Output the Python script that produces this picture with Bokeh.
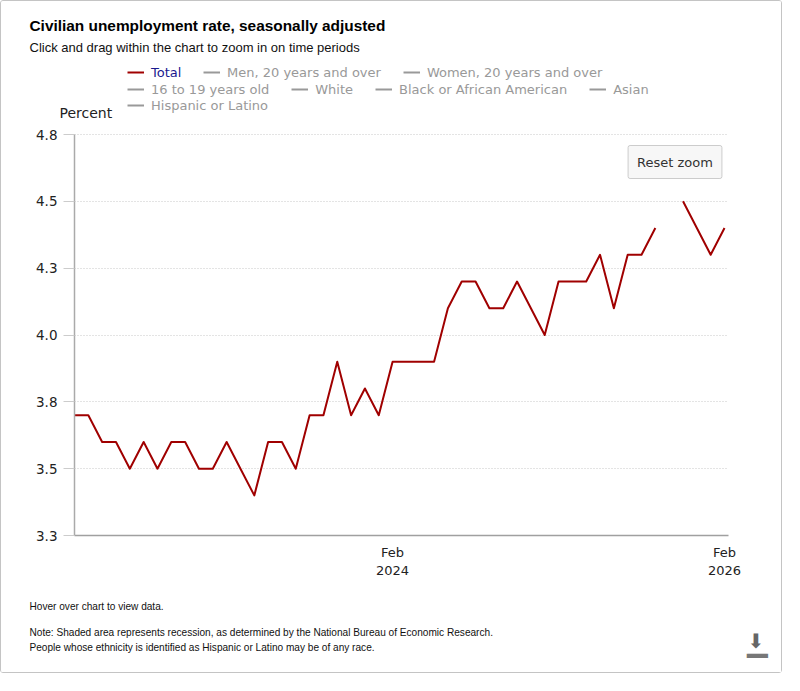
import math
from bokeh.plotting import figure
from bokeh.models import ColumnDataSource, Range1d, FixedTicker, Label, Legend, LegendItem
from bokeh.embed import file_html
from bokeh.resources import INLINE

# ---------------- data ----------------
months = [
    "Mar 2022", "Apr 2022", "May 2022", "Jun 2022", "Jul 2022", "Aug 2022",
    "Sep 2022", "Oct 2022", "Nov 2022", "Dec 2022",
    "Jan 2023", "Feb 2023", "Mar 2023", "Apr 2023", "May 2023", "Jun 2023",
    "Jul 2023", "Aug 2023", "Sep 2023", "Oct 2023", "Nov 2023", "Dec 2023",
    "Jan 2024", "Feb 2024", "Mar 2024", "Apr 2024", "May 2024", "Jun 2024",
    "Jul 2024", "Aug 2024", "Sep 2024", "Oct 2024", "Nov 2024", "Dec 2024",
    "Jan 2025", "Feb 2025", "Mar 2025", "Apr 2025", "May 2025", "Jun 2025",
    "Jul 2025", "Aug 2025", "Sep 2025", "Oct 2025", "Nov 2025", "Dec 2025",
    "Jan 2026", "Feb 2026",
]
total = [
    3.7, 3.7, 3.6, 3.6, 3.5, 3.6, 3.5, 3.6, 3.6, 3.5,
    3.5, 3.6, 3.5, 3.4, 3.6, 3.6, 3.5, 3.7, 3.7, 3.9, 3.7, 3.8,
    3.7, 3.9, 3.9, 3.9, 3.9, 4.1, 4.2, 4.2, 4.1, 4.1, 4.2, 4.1,
    4.0, 4.2, 4.2, 4.2, 4.3, 4.1, 4.3, 4.3, 4.4, None, 4.5, 4.4,
    4.3, 4.4,
]
hidden_series = [
    "Men, 20 years and over", "Women, 20 years and over",
    "16 to 19 years old", "White", "Black or African American", "Asian",
    "Hispanic or Latino",
]
y_ticks = [3.25, 3.5, 3.75, 4.0, 4.25, 4.5, 4.75]
y_tick_labels = ["3.3", "3.5", "3.8", "4.0", "4.3", "4.5", "4.8"]
x_tick_months = ["Feb 2024", "Feb 2026"]
x_tick_labels = ["Feb\n2024", "Feb\n2026"]

title = "Civilian unemployment rate, seasonally adjusted"
subtitle = "Click and drag within the chart to zoom in on time periods"
y_title = "Percent"
footer = [
    "Hover over chart to view data.",
    "Note: Shaded area represents recession, as determined by the National Bureau of Economic Research.",
    "People whose ethnicity is identified as Hispanic or Latino may be of any race.",
]

# ---------------- geometry (page pixels) ----------------
W, H = 782, 673
PL, PT = 9, 9                      # page offset of the canvas (8px margin + 1px border)
AX_L, AX_R, AX_T, AX_B = 82, 736, 142, 543   # plot area on the page
n = len(months)
px_per_x = 650.0 / (n - 1)
px_per_y = (AX_B - AX_T) / (y_ticks[-1] - y_ticks[0])
x0 = -(AX_L - PL) / px_per_x
x1 = x0 + W / px_per_x
y0 = y_ticks[0] - (PT + H - AX_B) / px_per_y
y1 = y0 + H / px_per_y
x_right = (AX_R - AX_L) / px_per_x

x = list(range(n))
y = [math.nan if v is None else v for v in total]
src = ColumnDataSource(data=dict(x=x, y=y, month=months))

p = figure(width=W, height=H, output_backend="svg", toolbar_location=None, tools="",
           title=None, x_range=Range1d(x0, x1), y_range=Range1d(y0, y1),
           min_border=0, min_border_left=0, min_border_right=0,
           min_border_top=0, min_border_bottom=0)
p.styles = {"border": "1px solid #c4c4c4", "border-radius": "3px"}
p.outline_line_color = None
p.background_fill_color = "white"
p.border_fill_color = "white"

p.xgrid.visible = False
p.ygrid.grid_line_color = "#c8c8c8"
p.ygrid.grid_line_dash = "1 2"
p.ygrid.grid_line_width = 1
p.ygrid.bounds = (y_ticks[0], y_ticks[-1])
p.ygrid.cross_bounds = (0, x_right)

p.yaxis.fixed_location = 0
p.yaxis.bounds = (y_ticks[0], y_ticks[-1])
p.yaxis.ticker = FixedTicker(ticks=y_ticks)
p.yaxis.major_label_overrides = dict(zip(y_ticks, y_tick_labels))
p.yaxis.axis_line_color = "#aaaaaa"
p.yaxis.axis_line_width = 1.5
p.yaxis.major_tick_line_color = "#cccccc"
p.yaxis.major_tick_out = 11
p.yaxis.major_tick_in = 0
p.yaxis.minor_tick_line_color = None
p.yaxis.major_label_text_font = "DejaVu Sans"
p.yaxis.major_label_text_font_size = "13.5px"
p.yaxis.major_label_text_color = "#222222"
p.yaxis.major_label_standoff = 6

xt = [months.index(m) for m in x_tick_months]
p.xaxis.fixed_location = y_ticks[0]
p.xaxis.bounds = (0, x_right)
p.xaxis.ticker = FixedTicker(ticks=xt)
p.xaxis.major_label_overrides = dict(zip(xt, x_tick_labels))
p.xaxis.axis_line_color = "#a0a0a0"
p.xaxis.axis_line_width = 1.5
p.xaxis.major_tick_line_color = None
p.xaxis.minor_tick_line_color = None
p.xaxis.major_label_text_font = "DejaVu Sans"
p.xaxis.major_label_text_font_size = "13px"
p.xaxis.major_label_text_color = "#222222"
p.xaxis.major_label_text_line_height = 1.24
p.xaxis.major_label_standoff = 3

r_total = p.line("x", "y", source=src, line_color="#a00000", line_width=2, line_join="round")
# series that are switched off in the reference: no visible points
hidden_r = [p.line(x=[math.nan], y=[math.nan], line_color="#999999", line_width=2)
            for _ in hidden_series]


def sx(page_x):
    return page_x - PL


def sy(page_y):
    return PT + H - page_y


def make_legend(items, px, py_center, color):
    h = 16
    return Legend(items=items, location=(sx(px), sy(py_center + h / 2)),
                  orientation="horizontal", label_text_font="DejaVu Sans",
                  label_text_font_size="13px", label_text_color=color,
                  glyph_width=17, glyph_height=h, label_height=h, label_standoff=7,
                  spacing=22, padding=0, margin=0, border_line_color=None,
                  background_fill_alpha=0)


p.add_layout(make_legend([LegendItem(label="Total", renderers=[r_total])], 135, 80, "#1a1a8f"))
p.add_layout(make_legend([LegendItem(label=hidden_series[i], renderers=[hidden_r[i]]) for i in (0, 1)],
                         211, 80, "#999999"))
p.add_layout(make_legend([LegendItem(label=hidden_series[i], renderers=[hidden_r[i]]) for i in (2, 3, 4, 5)],
                         135, 97, "#999999"))
p.add_layout(make_legend([LegendItem(label=hidden_series[6], renderers=[hidden_r[6]])],
                         135, 113, "#999999"))


def lab(text, px, py, size, font="Liberation Sans", color="#222222", style="normal",
        align="left", baseline="middle", **kw):
    p.add_layout(Label(x=sx(px), y=sy(py), x_units="screen", y_units="screen",
                       text=text, text_font=font, text_font_size=size, text_color=color,
                       text_font_style=style, text_align=align, text_baseline=baseline, **kw))


lab(title, 37, 33, "15.4px", color="#000000", style="bold")
lab(subtitle, 37, 55, "13px", color="#111111")
lab(y_title, 67, 120, "14px", font="DejaVu Sans", color="#222222")
lab(footer[0], 37, 614, "10.1px", color="#111111")
lab(footer[1], 37, 640, "10.1px", color="#111111")
lab(footer[2], 37, 655, "10.1px", color="#111111")
lab("Reset zoom", 682.5, 169.5, "13px", font="DejaVu Sans", color="#333333", align="center",
    background_fill_color="#f7f7f7", border_line_color="#cccccc", padding=9, border_radius=2)
# download icon
lab("\u2b07", 763.5, 648, "20px", font="DejaVu Sans", color="#666666", align="center")
lab("\u2581", 765, 664, "27px", font="DejaVu Sans", color="#777777", align="center",
    baseline="bottom")

open("out.html", "w").write(file_html(p, INLINE))
